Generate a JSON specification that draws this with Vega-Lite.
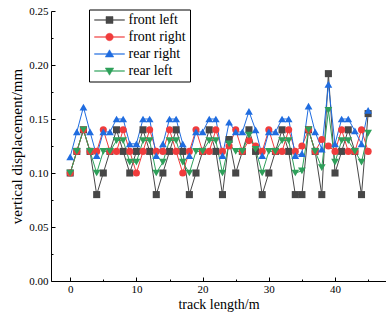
{
  "$schema": "https://vega.github.io/schema/vega-lite/v6.json",
  "width": 335,
  "height": 270,
  "autosize": {"type": "none"},
  "padding": {"left": 51, "top": 11, "right": 0, "bottom": 39},
  "background": "white",
  "config": {
    "view": {"stroke": null},
    "font": "Liberation Serif",
    "axis": {
      "grid": false,
      "domainColor": "black",
      "domainWidth": 1,
      "tickColor": "black",
      "tickWidth": 1,
      "labelFont": "Liberation Serif",
      "labelFontSize": 11,
      "labelColor": "black",
      "titleFont": "Liberation Serif",
      "titleFontWeight": "normal",
      "titleColor": "black"
    },
    "legend": {
      "labelFont": "Liberation Serif",
      "labelFontSize": 14,
      "labelColor": "black",
      "title": null,
      "orient": "none",
      "legendX": 38,
      "legendY": -1.5,
      "strokeColor": "black",
      "padding": 3.5,
      "rowPadding": 3,
      "symbolSize": 100,
      "symbolOffset": 10,
      "labelOffset": 12,
      "symbolStrokeWidth": 0.5
    }
  },
  "data": {
    "values": [
      {"x": 0, "front left": 0.1, "front right": 0.1, "rear right": 0.115, "rear left": 0.1},
      {"x": 1, "front left": 0.12, "front right": 0.12, "rear right": 0.138, "rear left": 0.12},
      {"x": 2, "front left": 0.14, "front right": 0.14, "rear right": 0.161, "rear left": 0.14},
      {"x": 3, "front left": 0.12, "front right": 0.12, "rear right": 0.138, "rear left": 0.12},
      {"x": 4, "front left": 0.08, "front right": 0.12, "rear right": 0.116, "rear left": 0.1},
      {"x": 5, "front left": 0.1, "front right": 0.14, "rear right": 0.138, "rear left": 0.12},
      {"x": 6, "front left": 0.12, "front right": 0.12, "rear right": 0.138, "rear left": 0.12},
      {"x": 7, "front left": 0.14, "front right": 0.12, "rear right": 0.15, "rear left": 0.13},
      {"x": 8, "front left": 0.12, "front right": 0.14, "rear right": 0.15, "rear left": 0.13},
      {"x": 9, "front left": 0.1, "front right": 0.12, "rear right": 0.127, "rear left": 0.11},
      {"x": 10, "front left": 0.12, "front right": 0.1, "rear right": 0.127, "rear left": 0.11},
      {"x": 11, "front left": 0.14, "front right": 0.12, "rear right": 0.15, "rear left": 0.13},
      {"x": 12, "front left": 0.12, "front right": 0.14, "rear right": 0.15, "rear left": 0.13},
      {"x": 13, "front left": 0.08, "front right": 0.12, "rear right": 0.116, "rear left": 0.1},
      {"x": 14, "front left": 0.1, "front right": 0.12, "rear right": 0.127, "rear left": 0.11},
      {"x": 15, "front left": 0.12, "front right": 0.14, "rear right": 0.15, "rear left": 0.13},
      {"x": 16, "front left": 0.14, "front right": 0.12, "rear right": 0.15, "rear left": 0.13},
      {"x": 17, "front left": 0.12, "front right": 0.1, "rear right": 0.127, "rear left": 0.11},
      {"x": 18, "front left": 0.08, "front right": 0.12, "rear right": 0.116, "rear left": 0.1},
      {"x": 19, "front left": 0.1, "front right": 0.14, "rear right": 0.138, "rear left": 0.12},
      {"x": 20, "front left": 0.12, "front right": 0.12, "rear right": 0.138, "rear left": 0.12},
      {"x": 21, "front left": 0.14, "front right": 0.12, "rear right": 0.15, "rear left": 0.13},
      {"x": 22, "front left": 0.12, "front right": 0.14, "rear right": 0.15, "rear left": 0.13},
      {"x": 23, "front left": 0.08, "front right": 0.12, "rear right": 0.116, "rear left": 0.1},
      {"x": 24, "front left": 0.131, "front right": 0.125, "rear right": 0.147, "rear left": 0.127},
      {"x": 25, "front left": 0.1, "front right": 0.14, "rear right": 0.138, "rear left": 0.12},
      {"x": 26, "front left": 0.12, "front right": 0.12, "rear right": 0.138, "rear left": 0.12},
      {"x": 27, "front left": 0.14, "front right": 0.13, "rear right": 0.157, "rear left": 0.135},
      {"x": 28, "front left": 0.12, "front right": 0.125, "rear right": 0.14, "rear left": 0.122},
      {"x": 29, "front left": 0.08, "front right": 0.12, "rear right": 0.116, "rear left": 0.1},
      {"x": 30, "front left": 0.1, "front right": 0.14, "rear right": 0.138, "rear left": 0.12},
      {"x": 31, "front left": 0.12, "front right": 0.12, "rear right": 0.138, "rear left": 0.12},
      {"x": 32, "front left": 0.14, "front right": 0.12, "rear right": 0.15, "rear left": 0.13},
      {"x": 33, "front left": 0.12, "front right": 0.14, "rear right": 0.15, "rear left": 0.13},
      {"x": 34, "front left": 0.08, "front right": 0.12, "rear right": 0.116, "rear left": 0.1},
      {"x": 35, "front left": 0.08, "front right": 0.125, "rear right": 0.118, "rear left": 0.102},
      {"x": 36, "front left": 0.14, "front right": 0.14, "rear right": 0.162, "rear left": 0.14},
      {"x": 37, "front left": 0.12, "front right": 0.12, "rear right": 0.138, "rear left": 0.12},
      {"x": 38, "front left": 0.08, "front right": 0.131, "rear right": 0.122, "rear left": 0.105},
      {"x": 39, "front left": 0.192, "front right": 0.125, "rear right": 0.182, "rear left": 0.158},
      {"x": 40, "front left": 0.1, "front right": 0.12, "rear right": 0.127, "rear left": 0.11},
      {"x": 41, "front left": 0.12, "front right": 0.14, "rear right": 0.15, "rear left": 0.13},
      {"x": 42, "front left": 0.14, "front right": 0.12, "rear right": 0.15, "rear left": 0.13},
      {"x": 43, "front left": 0.12, "front right": 0.12, "rear right": 0.139, "rear left": 0.12},
      {"x": 44, "front left": 0.08, "front right": 0.14, "rear right": 0.127, "rear left": 0.11},
      {"x": 45, "front left": 0.155, "front right": 0.12, "rear right": 0.158, "rear left": 0.137}
    ]
  },
  "transform": [
    {"fold": ["front left", "front right", "rear right", "rear left"], "as": ["series", "y"]}
  ],
  "encoding": {
    "x": {
      "field": "x",
      "type": "quantitative",
      "scale": {"domain": [-2.9, 47.7], "nice": false, "zero": false},
      "axis": {
        "title": "track length/m",
        "titleFontSize": 14,
        "titlePadding": 3,
        "values": [0, 5, 10, 15, 20, 25, 30, 35, 40, 45],
        "labelExpr": "datum.value % 10 === 0 ? datum.value : ''",
        "labelPadding": 6,
        "tickSize": {"condition": {"test": "datum.value % 10 === 0", "value": -4}, "value": -2}
      }
    },
    "y": {
      "field": "y",
      "type": "quantitative",
      "scale": {"domain": [0, 0.25], "nice": false},
      "axis": {
        "title": "vertical displacement/mm",
        "titleFontSize": 15,
        "titlePadding": 4,
        "values": [0, 0.025, 0.05, 0.075, 0.1, 0.125, 0.15, 0.175, 0.2, 0.225, 0.25],
        "labelExpr": "round(datum.value * 1000) % 50 === 0 ? format(datum.value, '.2f') : ''",
        "labelPadding": 7,
        "tickSize": {"condition": {"test": "round(datum.value * 1000) % 50 === 0", "value": -4}, "value": -2}
      }
    },
    "color": {
      "field": "series",
      "type": "nominal",
      "scale": {
        "domain": ["front left", "front right", "rear right", "rear left"],
        "range": ["#474747", "#f03c3c", "#1f6ce0", "#2ea05a"]
      }
    }
  },
  "layer": [
    {
      "transform": [{"filter": "datum.x < 0"}],
      "mark": {"type": "point", "filled": true, "opacity": 1, "size": 100},
      "encoding": {
        "shape": {
          "field": "series",
          "type": "nominal",
          "scale": {
            "domain": ["front left", "front right", "rear right", "rear left"],
            "range": [
              "M-3,-0.06H3V0.06H-3ZM-0.7,-0.7H0.7V0.7H-0.7Z",
              "M-3,-0.06H3V0.06H-3ZM-0.75,0A0.75,0.75 0 1 1 0.75,0A0.75,0.75 0 1 1 -0.75,0Z",
              "M-3,-0.06H3V0.06H-3ZM0,-0.85L0.85,0.6H-0.85Z",
              "M-3,-0.06H3V0.06H-3ZM0,0.85L-0.85,-0.6H0.85Z"
            ]
          }
        }
      }
    },
    {
      "mark": {"type": "line", "strokeWidth": 1}
    },
    {
      "transform": [{"filter": "datum.series === 'front left'"}],
      "mark": {"type": "point", "filled": true, "opacity": 1, "size": 50, "shape": "square"}
    },
    {
      "transform": [{"filter": "datum.series === 'front right'"}],
      "mark": {"type": "point", "filled": true, "opacity": 1, "size": 50, "shape": "circle"}
    },
    {
      "transform": [{"filter": "datum.series === 'rear right'"}],
      "mark": {"type": "point", "filled": true, "opacity": 1, "size": 60, "shape": "triangle-up"}
    },
    {
      "transform": [{"filter": "datum.series === 'rear left'"}],
      "mark": {"type": "point", "filled": true, "opacity": 1, "size": 60, "shape": "triangle-down"}
    }
  ]
}
